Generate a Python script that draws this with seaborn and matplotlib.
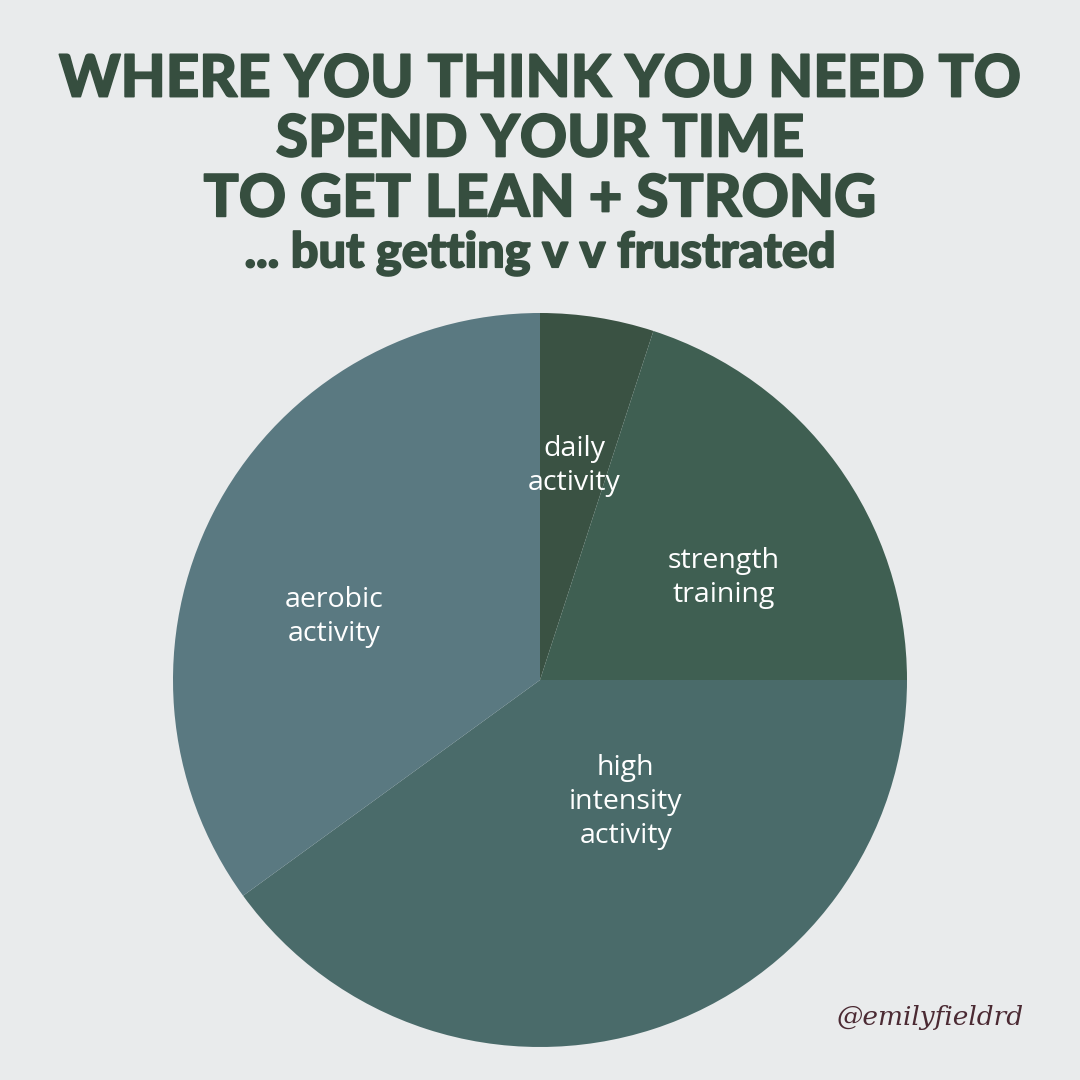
import matplotlib.pyplot as plt
import matplotlib.patheffects as pe
import seaborn as sns

# slice data, clockwise from 12 o'clock
activities = ["daily\nactivity", "strength\ntraining", "high\nintensity\nactivity", "aerobic\nactivity"]
share = [5, 20, 40, 35]
slice_colors = ["#3a5243", "#3f5f52", "#4a6b6a", "#5a7981"]

title_lines = "WHERE YOU THINK YOU NEED TO\nSPEND YOUR TIME\nTO GET LEAN + STRONG"
subtitle = "... but getting v v frustrated"
handle = "@emilyfieldrd"

# label spots (axes data units, pie radius 1)
label_xy = [(0.093, 0.583), (0.501, 0.278), (0.234, -0.332), (-0.561, 0.172)]

sns.set_theme(style="white")
bg = "#e9ebec"
ink = "#364e3f"

fig = plt.figure(figsize=(10.8, 10.8), dpi=100, facecolor=bg)
r = 367 / 1080
cx, cy = 0.5, 1 - 680 / 1080
ax = fig.add_axes([cx - r, cy - r, 2 * r, 2 * r])
ax.set_facecolor(bg)

wedges, texts = ax.pie(share, labels=activities, colors=sns.color_palette(slice_colors),
                       startangle=90, counterclock=False, labeldistance=0.6,
                       wedgeprops=dict(linewidth=0),
                       textprops=dict(color="white", fontsize=20.5, family="Open Sans",
                                      ha="center", va="center", linespacing=1.28))
for t, xy in zip(texts, label_xy):
    t.set_position(xy)
    t.set_horizontalalignment("center")
ax.set_xlim(-1, 1)
ax.set_ylim(-1, 1)
ax.set_aspect("equal")
ax.axis("off")

thick = [pe.withStroke(linewidth=1.2, foreground=ink)]
fig.text(0.5, 1 - 140 / 1080, title_lines, ha="center", va="center", color=ink,
         fontsize=42, family="Lato", fontweight="black", linespacing=1.16,
         path_effects=thick)
fig.text(0.5, 1 - 253 / 1080, subtitle, ha="center", va="center", color=ink,
         fontsize=35, family="Lato", fontweight="black", path_effects=thick)
fig.text(930 / 1080, 1 - 1018 / 1080, handle, ha="center", va="center", color="#4b2a33",
         fontsize=19, family="DejaVu Serif", style="italic")

fig.savefig("out.png", dpi=100, facecolor=bg)
